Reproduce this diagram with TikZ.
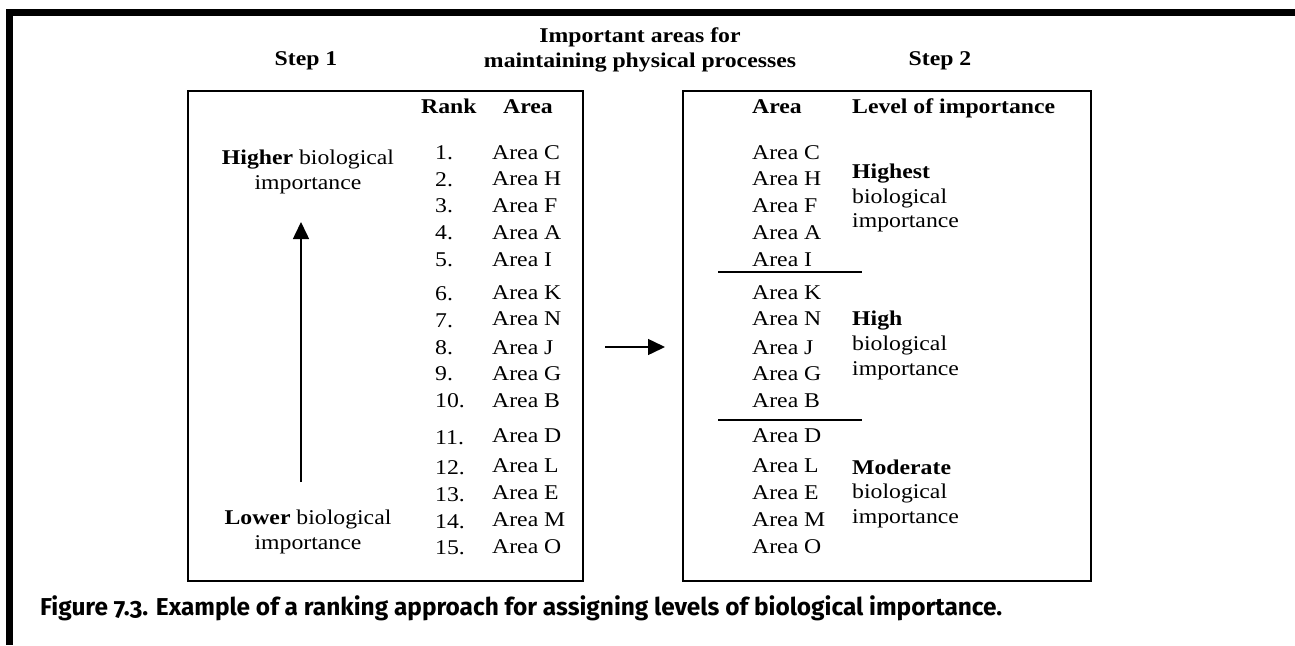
\documentclass[tikz,border=0pt]{standalone}
\usepackage{fontspec}
\usepackage{graphicx}
\setmainfont{Liberation Serif}[FakeStretch=1.13]
\newfontfamily\capfont{Fira Sans}[Numbers=OldStyle]
\usetikzlibrary{arrows.meta}

\begin{document}
\begin{tikzpicture}[x=1pt,y=-1pt,
  txt/.style={inner sep=0pt, yshift=-5pt, font=\fontsize{21}{25}\selectfont},
  lbl/.style={txt, anchor=mid west},
  ctr/.style={txt, anchor=mid},
  hd/.style={font=\fontsize{21}{25}\selectfont\bfseries},
  frame/.style={draw, line width=1.5pt, inner sep=0pt, anchor=north west},
  sepline/.style={line width=2pt},
  tip/.style={-{Triangle[width=16pt,length=17pt]}, line width=1.5pt}]

\useasboundingbox (0,0) rectangle (1295,645);

% heavy rule along the top and left edges
\fill (6,9) rectangle (1295,16);
\fill (6,9) rectangle (13,645);

% the two panels
\node[frame, minimum width=395pt, minimum height=490pt] (box1) at (187,90) {};
\node[frame, minimum width=408pt, minimum height=490pt] (box2) at (682,90) {};

% titles above the panels
\node[ctr, hd] (step1) at (306,58) {Step 1};
\node[ctr, hd] (title1) at (640,35) {Important areas for};
\node[ctr, hd] (title2) at (640,60) {maintaining physical processes};
\node[ctr, hd] (step2) at (940,58) {Step 2};

% column headings
\node[lbl, hd] (rankhd) at (421,106) {Rank};
\node[lbl, hd] (areahd1) at (503,106) {Area};
\node[lbl, hd] (areahd2) at (752,106) {Area};
\node[lbl, hd] (levelhd) at (852,106) {Level of importance};

% ranked list in the first panel, same order in the second
\foreach \n/\a/\yr/\ya in {1/C/152/152, 2/H/179/178, 3/F/205/205, 4/A/232/232, 5/I/259/259,
  6/K/293/292, 7/N/320/318, 8/J/347/347, 9/G/373/373, 10/B/400/400,
  11/D/437/435, 12/L/467/465, 13/E/494/492, 14/M/521/519, 15/O/547/546}{
  \node[lbl] (rank\n) at (435,\yr) {\n.};
  \node[lbl] (left\n) at (492,\ya) {Area \a};
  \node[lbl] (right\n) at (752,\ya) {Area \a};
}

% direction of importance
\node[ctr] (hi1) at (308,157) {\textbf{Higher} biological};
\node[ctr] (hi2) at (308,182) {importance};
\node[ctr] (lo1) at (308,517) {\textbf{Lower} biological};
\node[ctr] (lo2) at (308,542) {importance};
\coordinate (uptail) at (301,482);
\coordinate (uphead) at (301,222);
\draw[tip] (uptail) -- (uphead);

% step arrow between the panels
\coordinate (midtail) at (605,347);
\coordinate (midhead) at (665,347);
\draw[tip] (midtail) -- (midhead);

% group dividers in the second panel
\coordinate (d1a) at (718,272); \coordinate (d1b) at (862,272);
\coordinate (d2a) at (718,420); \coordinate (d2b) at (862,420);
\draw[sepline] (d1a) -- (d1b);
\draw[sepline] (d2a) -- (d2b);

% importance levels
\node[lbl, hd] (lv1a) at (852,171) {Highest};
\node[lbl] (lv1b) at (852,196) {biological};
\node[lbl] (lv1c) at (852,220) {importance};
\node[lbl, hd] (lv2a) at (852,318) {High};
\node[lbl] (lv2b) at (852,343) {biological};
\node[lbl] (lv2c) at (852,368) {importance};
\node[lbl, hd] (lv3a) at (852,467) {Moderate};
\node[lbl] (lv3b) at (852,491) {biological};
\node[lbl] (lv3c) at (852,516) {importance};

% caption
\node[anchor=mid west, inner sep=0pt] (caption) at (40,613)
  {\resizebox{962pt}{!}{\capfont\bfseries Figure 7.3. Example of a ranking approach for assigning levels of biological importance.}};
\end{tikzpicture}
\end{document}
